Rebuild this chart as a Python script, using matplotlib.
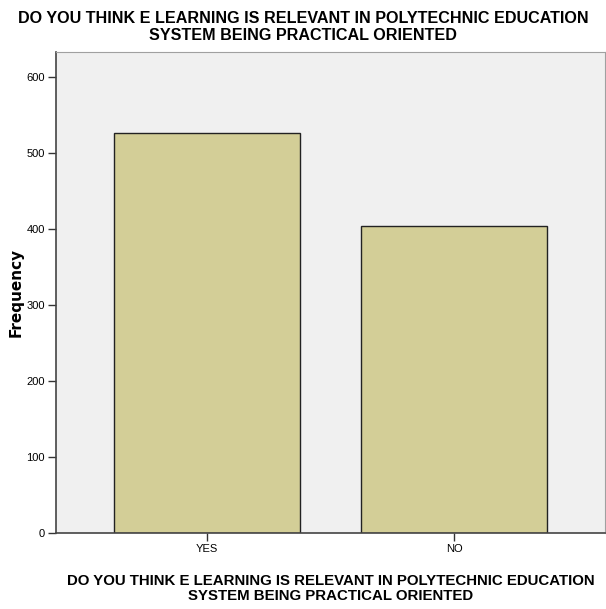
import matplotlib
matplotlib.use('Agg')
import matplotlib.pyplot as plt

categories = ['YES', 'NO']
frequency = [526, 404]
yticks = [0, 100, 200, 300, 400, 500, 600]
title = 'DO YOU THINK E LEARNING IS RELEVANT IN POLYTECHNIC EDUCATION\nSYSTEM BEING PRACTICAL ORIENTED'

plt.rcParams['font.family'] = ['Liberation Sans', 'DejaVu Sans']

fig = plt.figure(figsize=(6.06, 6.09), dpi=100)
ax = fig.add_axes([56 / 606, 76 / 609, 549 / 606, 481 / 609])
ax.set_facecolor('#f0f0f0')

x = range(len(categories))
ax.bar(x, frequency, width=0.753, color='#d3ce97', edgecolor='#222222', linewidth=1.0, zorder=2)

ax.set_xlim(-0.611, 1.611)
ax.set_ylim(0, 633)
ax.set_xticks(list(x))
ax.set_xticklabels(categories, fontsize=8)
ax.set_yticks(yticks)
ax.set_yticklabels([str(v) for v in yticks], fontsize=8)
ax.tick_params(axis='both', length=6, width=1, color='#333333', pad=2)

for side in ['top', 'right']:
    ax.spines[side].set_color('#a0a0a0')
for side in ['left', 'bottom']:
    ax.spines[side].set_color('#444444')
    ax.spines[side].set_linewidth(1.2)

ax.set_ylabel('Frequency', fontsize=11, fontweight='bold', family=['DejaVu Sans'], labelpad=2)
ax.set_xlabel(title, fontsize=10.8, fontweight='bold', labelpad=14, linespacing=1.15)
fig.suptitle(title, fontsize=11.6, fontweight='bold', y=0.982, linespacing=1.2)

fig.savefig('out.png', dpi=100)
